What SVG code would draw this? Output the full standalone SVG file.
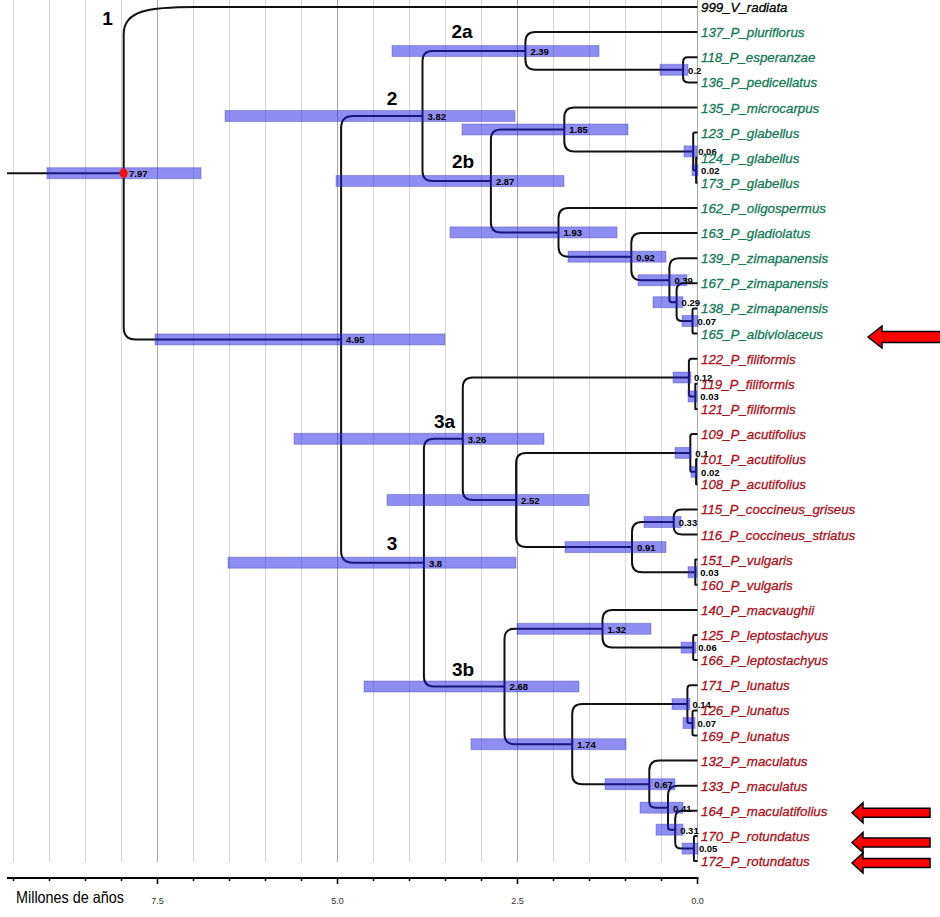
<svg xmlns="http://www.w3.org/2000/svg" width="940" height="917" viewBox="0 0 940 917">
<style>
.gmin{stroke:#d6d6d6;stroke-width:1}
.gmaj{stroke:#a8a8a8;stroke-width:1}
.br{fill:none;stroke:#111;stroke-width:2;stroke-linejoin:round}
.bar{fill:#1e1ee6;fill-opacity:0.5;stroke:#3030b0;stroke-opacity:0.35;stroke-width:1}
.nl{font-family:"Liberation Sans",Arial,sans-serif;font-weight:bold;font-size:9.5px;fill:#000}
.tip{font-family:"Liberation Sans",Arial,sans-serif;font-style:italic;font-size:13.3px;stroke-width:0.3px}
.g{fill:#16795a;stroke:#16795a}
.r{fill:#a8121e;stroke:#a8121e}
.k{fill:#000;stroke:#000}
.cl{font-family:"Liberation Sans",Arial,sans-serif;font-weight:bold;font-size:19px;fill:#000}
.ax{font-family:"Liberation Sans",Arial,sans-serif;font-size:9px;fill:#333;text-anchor:middle}
.arw{fill:#ff0000;stroke:#000;stroke-width:1.5;stroke-linejoin:miter}
</style>
<rect width="940" height="917" fill="#fff"/>
<g id="grid">
<line class="gmin" x1="13.5" y1="0" x2="13.5" y2="862"/>
<line class="gmin" x1="49.5" y1="0" x2="49.5" y2="862"/>
<line class="gmin" x1="85.5" y1="0" x2="85.5" y2="862"/>
<line class="gmin" x1="121.5" y1="0" x2="121.5" y2="862"/>
<line class="gmaj" x1="157.5" y1="0" x2="157.5" y2="862"/>
<line class="gmin" x1="193.5" y1="0" x2="193.5" y2="862"/>
<line class="gmin" x1="229.5" y1="0" x2="229.5" y2="862"/>
<line class="gmin" x1="265.5" y1="0" x2="265.5" y2="862"/>
<line class="gmin" x1="301.5" y1="0" x2="301.5" y2="862"/>
<line class="gmaj" x1="337.5" y1="0" x2="337.5" y2="862"/>
<line class="gmin" x1="373.5" y1="0" x2="373.5" y2="862"/>
<line class="gmin" x1="409.5" y1="0" x2="409.5" y2="862"/>
<line class="gmin" x1="445.5" y1="0" x2="445.5" y2="862"/>
<line class="gmin" x1="481.5" y1="0" x2="481.5" y2="862"/>
<line class="gmaj" x1="517.5" y1="0" x2="517.5" y2="862"/>
<line class="gmin" x1="553.5" y1="0" x2="553.5" y2="862"/>
<line class="gmin" x1="589.5" y1="0" x2="589.5" y2="862"/>
<line class="gmin" x1="625.5" y1="0" x2="625.5" y2="862"/>
<line class="gmin" x1="661.5" y1="0" x2="661.5" y2="862"/>
<line class="gmaj" x1="697.5" y1="0" x2="697.5" y2="862"/>
</g>
<g id="axis">
<line x1="7" y1="878" x2="698.5" y2="878" stroke="#000" stroke-width="2"/>
<g stroke="#000" stroke-width="1.5">
<line x1="13.5" y1="878" x2="13.5" y2="881"/><line x1="49.5" y1="878" x2="49.5" y2="881"/><line x1="85.5" y1="878" x2="85.5" y2="881"/><line x1="121.5" y1="878" x2="121.5" y2="881"/>
<line x1="157.5" y1="878" x2="157.5" y2="884"/>
<line x1="193.5" y1="878" x2="193.5" y2="881"/><line x1="229.5" y1="878" x2="229.5" y2="881"/><line x1="265.5" y1="878" x2="265.5" y2="881"/><line x1="301.5" y1="878" x2="301.5" y2="881"/>
<line x1="337.5" y1="878" x2="337.5" y2="884"/>
<line x1="373.5" y1="878" x2="373.5" y2="881"/><line x1="409.5" y1="878" x2="409.5" y2="881"/><line x1="445.5" y1="878" x2="445.5" y2="881"/><line x1="481.5" y1="878" x2="481.5" y2="881"/>
<line x1="517.5" y1="878" x2="517.5" y2="884"/>
<line x1="553.5" y1="878" x2="553.5" y2="881"/><line x1="589.5" y1="878" x2="589.5" y2="881"/><line x1="625.5" y1="878" x2="625.5" y2="881"/><line x1="661.5" y1="878" x2="661.5" y2="881"/>
<line x1="697.5" y1="878" x2="697.5" y2="884"/>
</g>
<text class="ax" x="157.5" y="904">7.5</text>
<text class="ax" x="337.5" y="904">5.0</text>
<text class="ax" x="517.5" y="904">2.5</text>
<text class="ax" x="697.5" y="904">0.0</text>
<text x="16" y="903" font-family="'Liberation Sans',Arial,sans-serif" font-size="16.5" textLength="108" lengthAdjust="spacingAndGlyphs">Millones de años</text>
</g>
<g id="connectors">
<path class="br" d="M7,173.2 H123.7"/>
<path class="br" d="M697.5,7 H195 C150,7 123.7,10 123.7,34 V327.4 Q123.7,339.4 135.7,339.4 H341.1"/>
<path class="br" d="M422.5,116 H353.1 Q341.1,116 341.1,128 V550.7 Q341.1,562.7 353.1,562.7 H423.9"/>
<path class="br" d="M525.4,51 H432.5 Q422.5,51 422.5,61 V171 Q422.5,181 432.5,181 H490.9"/>
<path class="br" d="M697.5,32.1 H535.4 Q525.4,32.1 525.4,42.1 V59.8 Q525.4,69.8 535.4,69.8 H683.1"/>
<path class="br" d="M697.5,57.2 H687.9 Q683.1,57.2 683.1,62 V77.6 Q683.1,82.4 687.9,82.4 H697.5"/>
<path class="br" d="M564.3,129.5 H500.9 Q490.9,129.5 490.9,139.5 V222.4 Q490.9,232.4 500.9,232.4 H558.5"/>
<path class="br" d="M697.5,107.5 H574.3 Q564.3,107.5 564.3,117.5 V141.4 Q564.3,151.4 574.3,151.4 H693.2"/>
<path class="br" d="M697.5,132.6 H694.6 Q693.2,132.6 693.2,134 V169.3 Q693.2,170.3 694.2,170.3 H696.1"/>
<path class="br" d="M697.5,157.7 H696.1 V182.8 H697.5"/>
<path class="br" d="M697.5,208 H568.5 Q558.5,208 558.5,218 V246.7 Q558.5,256.7 568.5,256.7 H631.3"/>
<path class="br" d="M697.5,233.1 H641.3 Q631.3,233.1 631.3,243.1 V270.2 Q631.3,280.2 641.3,280.2 H669.4"/>
<path class="br" d="M697.5,258.2 H678.8 Q669.4,258.2 669.4,267.6 V299.8 Q669.4,302.2 671.8,302.2 H676.6"/>
<path class="br" d="M697.5,283.3 H683.6 Q676.6,283.3 676.6,290.3 V315.7 Q676.6,321 681.9,321 H692.5"/>
<path class="br" d="M697.5,308.4 H694.2 Q692.5,308.4 692.5,310.1 V331.9 Q692.5,333.6 694.2,333.6 H697.5"/>
<path class="br" d="M462.8,438.8 H433.9 Q423.9,438.8 423.9,448.8 V676.5 Q423.9,686.5 433.9,686.5 H504.5"/>
<path class="br" d="M688.9,377.5 H472.8 Q462.8,377.5 462.8,387.5 V490 Q462.8,500 472.8,500 H516.1"/>
<path class="br" d="M697.5,358.7 H691.8 Q688.9,358.7 688.9,361.6 V394.3 Q688.9,396.4 691,396.4 H695.3"/>
<path class="br" d="M697.5,383.8 H695.3 V408.9 H697.5"/>
<path class="br" d="M690.3,452.9 H526.1 Q516.1,452.9 516.1,462.9 V537.1 Q516.1,547.1 526.1,547.1 H632"/>
<path class="br" d="M697.5,434 H692.7 Q690.3,434 690.3,436.4 V469.9 Q690.3,471.8 692.2,471.8 H696.1"/>
<path class="br" d="M697.5,459.2 H696.1 V484.3 H697.5"/>
<path class="br" d="M673.7,522 H642 Q632,522 632,532 V562.2 Q632,572.2 642,572.2 H695.3"/>
<path class="br" d="M697.5,509.4 H681.6 Q673.7,509.4 673.7,517.3 V526.6 Q673.7,534.5 681.6,534.5 H697.5"/>
<path class="br" d="M697.5,559.6 H695.3 V584.8 H697.5"/>
<path class="br" d="M602.5,628.8 H514.5 Q504.5,628.8 504.5,638.8 V734.2 Q504.5,744.2 514.5,744.2 H572.2"/>
<path class="br" d="M697.5,609.9 H612.5 Q602.5,609.9 602.5,619.9 V637.6 Q602.5,647.6 612.5,647.6 H693.2"/>
<path class="br" d="M697.5,635 H694.6 Q693.2,635 693.2,636.4 V658.7 Q693.2,660.1 694.6,660.1 H697.5"/>
<path class="br" d="M687.4,704.1 H582.2 Q572.2,704.1 572.2,714.1 V774.2 Q572.2,784.2 582.2,784.2 H649.3"/>
<path class="br" d="M697.5,685.2 H690.8 Q687.4,685.2 687.4,688.6 V721.3 Q687.4,723 689.1,723 H692.5"/>
<path class="br" d="M697.5,710.4 H694.2 Q692.5,710.4 692.5,712.1 V733.8 Q692.5,735.5 694.2,735.5 H697.5"/>
<path class="br" d="M697.5,760.6 H659.3 Q649.3,760.6 649.3,770.6 V801.5 Q649.3,807.7 655.5,807.7 H668"/>
<path class="br" d="M697.5,785.7 H677.8 Q668,785.7 668,795.5 V827.3 Q668,829.7 670.4,829.7 H675.2"/>
<path class="br" d="M697.5,810.8 H682.6 Q675.2,810.8 675.2,818.2 V842.4 Q675.2,848.6 681.4,848.6 H693.9"/>
<path class="br" d="M697.5,836 H695.1 Q693.9,836 693.9,837.2 V859.9 Q693.9,861.1 695.1,861.1 H697.5"/>
</g>
<g id="nodes">
<g id="n797"><rect class="bar" x="47" y="167.7" width="154" height="11"/><ellipse cx="123.7" cy="173.2" rx="4" ry="5" fill="#ff1010"/><text class="nl" x="129" y="177">7.97</text></g>
<g id="n382"><rect class="bar" x="225" y="110.5" width="290" height="11"/><text class="nl" x="427.5" y="119.8">3.82</text></g>
<g id="n239"><rect class="bar" x="392" y="45.5" width="207" height="11"/><text class="nl" x="530.4" y="54.8">2.39</text></g>
<g id="n020"><rect class="bar" x="660" y="64.3" width="28" height="11"/><text class="nl" x="688.1" y="73.6">0.2</text></g>
<g id="n287"><rect class="bar" x="336" y="175.5" width="228" height="11"/><text class="nl" x="495.9" y="184.8">2.87</text></g>
<g id="n185"><rect class="bar" x="462" y="124" width="166" height="11"/><text class="nl" x="569.3" y="133.3">1.85</text></g>
<g id="n006a"><rect class="bar" x="684" y="145.9" width="13" height="11"/><text class="nl" x="698.2" y="155.2">0.06</text></g>
<g id="n002a"><rect class="bar" x="692" y="164.8" width="6" height="11"/><text class="nl" x="701.1" y="174.1">0.02</text></g>
<g id="n193"><rect class="bar" x="450" y="226.9" width="167" height="11"/><text class="nl" x="563.5" y="236.2">1.93</text></g>
<g id="n092"><rect class="bar" x="568" y="251.2" width="98" height="11"/><text class="nl" x="636.3" y="260.5">0.92</text></g>
<g id="n039"><rect class="bar" x="638" y="274.7" width="49" height="11"/><text class="nl" x="674.4" y="284">0.39</text></g>
<g id="n029"><rect class="bar" x="653" y="296.7" width="30" height="11"/><text class="nl" x="681.6" y="306">0.29</text></g>
<g id="n007a"><rect class="bar" x="682" y="315.5" width="16" height="11"/><text class="nl" x="697.5" y="324.8">0.07</text></g>
<g id="n495"><rect class="bar" x="155" y="333.9" width="290" height="11"/><text class="nl" x="346.1" y="343.2">4.95</text></g>
<g id="n012"><rect class="bar" x="673" y="372" width="18" height="11"/><text class="nl" x="693.9" y="381.3">0.12</text></g>
<g id="n003a"><rect class="bar" x="688" y="390.9" width="9" height="11"/><text class="nl" x="700.3" y="400.2">0.03</text></g>
<g id="n326"><rect class="bar" x="294" y="433.3" width="250" height="11"/><text class="nl" x="467.8" y="442.6">3.26</text></g>
<g id="n010"><rect class="bar" x="675" y="447.4" width="16" height="11"/><text class="nl" x="695.3" y="456.7">0.1</text></g>
<g id="n002b"><rect class="bar" x="691" y="466.3" width="6" height="11"/><text class="nl" x="701.1" y="475.6">0.02</text></g>
<g id="n252"><rect class="bar" x="387" y="494.5" width="202" height="11"/><text class="nl" x="521.1" y="503.8">2.52</text></g>
<g id="n033"><rect class="bar" x="644" y="516.5" width="37" height="11"/><text class="nl" x="678.7" y="525.8">0.33</text></g>
<g id="n091"><rect class="bar" x="565" y="541.6" width="101" height="11"/><text class="nl" x="637" y="550.9">0.91</text></g>
<g id="n003b"><rect class="bar" x="688" y="566.7" width="9" height="11"/><text class="nl" x="700.3" y="576">0.03</text></g>
<g id="n380"><rect class="bar" x="228" y="557.2" width="288" height="11"/><text class="nl" x="428.9" y="566.5">3.8</text></g>
<g id="n132"><rect class="bar" x="517" y="623.3" width="134" height="11"/><text class="nl" x="607.5" y="632.6">1.32</text></g>
<g id="n006b"><rect class="bar" x="681" y="642.1" width="15" height="11"/><text class="nl" x="698.2" y="651.4">0.06</text></g>
<g id="n268"><rect class="bar" x="364" y="681" width="215" height="11"/><text class="nl" x="509.5" y="690.3">2.68</text></g>
<g id="n014"><rect class="bar" x="672" y="698.6" width="18" height="11"/><text class="nl" x="692.4" y="707.9">0.14</text></g>
<g id="n007b"><rect class="bar" x="683" y="717.5" width="12" height="11"/><text class="nl" x="697.5" y="726.8">0.07</text></g>
<g id="n174"><rect class="bar" x="471" y="738.7" width="155" height="11"/><text class="nl" x="577.2" y="748">1.74</text></g>
<g id="n067"><rect class="bar" x="605" y="778.7" width="70" height="11"/><text class="nl" x="654.3" y="788">0.67</text></g>
<g id="n041"><rect class="bar" x="640" y="802.2" width="43" height="11"/><text class="nl" x="673" y="811.5">0.41</text></g>
<g id="n031"><rect class="bar" x="656" y="824.2" width="27" height="11"/><text class="nl" x="680.2" y="833.5">0.31</text></g>
<g id="n005"><rect class="bar" x="682" y="843.1" width="16" height="11"/><text class="nl" x="698.9" y="852.4">0.05</text></g>
</g>
<g id="tips">
<g id="t999"><text class="tip k" x="701" y="12">999_V_radiata</text></g>
<g id="t137"><text class="tip g" x="701" y="37.1">137_P_pluriflorus</text></g>
<g id="t118"><text class="tip g" x="701" y="62.2">118_P_esperanzae</text></g>
<g id="t136"><text class="tip g" x="701" y="87.4">136_P_pedicellatus</text></g>
<g id="t135"><text class="tip g" x="701" y="112.5">135_P_microcarpus</text></g>
<g id="t123"><text class="tip g" x="701" y="137.6">123_P_glabellus</text></g>
<g id="t124"><text class="tip g" x="701" y="162.7">124_P_glabellus</text></g>
<g id="t173"><text class="tip g" x="701" y="187.8">173_P_glabellus</text></g>
<g id="t162"><text class="tip g" x="701" y="213">162_P_oligospermus</text></g>
<g id="t163"><text class="tip g" x="701" y="238.1">163_P_gladiolatus</text></g>
<g id="t139"><text class="tip g" x="701" y="263.2">139_P_zimapanensis</text></g>
<g id="t167"><text class="tip g" x="701" y="288.3">167_P_zimapanensis</text></g>
<g id="t138"><text class="tip g" x="701" y="313.4">138_P_zimapanensis</text></g>
<g id="t165"><text class="tip g" x="701" y="338.6">165_P_albiviolaceus</text></g>
<g id="t122"><text class="tip r" x="701" y="363.7">122_P_filiformis</text></g>
<g id="t119"><text class="tip r" x="701" y="388.8">119_P_filiformis</text></g>
<g id="t121"><text class="tip r" x="701" y="413.9">121_P_filiformis</text></g>
<g id="t109"><text class="tip r" x="701" y="439">109_P_acutifolius</text></g>
<g id="t101"><text class="tip r" x="701" y="464.2">101_P_acutifolius</text></g>
<g id="t108"><text class="tip r" x="701" y="489.3">108_P_acutifolius</text></g>
<g id="t115"><text class="tip r" x="701" y="514.4">115_P_coccineus_griseus</text></g>
<g id="t116"><text class="tip r" x="701" y="539.5">116_P_coccineus_striatus</text></g>
<g id="t151"><text class="tip r" x="701" y="564.6">151_P_vulgaris</text></g>
<g id="t160"><text class="tip r" x="701" y="589.8">160_P_vulgaris</text></g>
<g id="t140"><text class="tip r" x="701" y="614.9">140_P_macvaughii</text></g>
<g id="t125"><text class="tip r" x="701" y="640">125_P_leptostachyus</text></g>
<g id="t166"><text class="tip r" x="701" y="665.1">166_P_leptostachyus</text></g>
<g id="t171"><text class="tip r" x="701" y="690.2">171_P_lunatus</text></g>
<g id="t126"><text class="tip r" x="701" y="715.4">126_P_lunatus</text></g>
<g id="t169"><text class="tip r" x="701" y="740.5">169_P_lunatus</text></g>
<g id="t132"><text class="tip r" x="701" y="765.6">132_P_maculatus</text></g>
<g id="t133"><text class="tip r" x="701" y="790.7">133_P_maculatus</text></g>
<g id="t164"><text class="tip r" x="701" y="815.8">164_P_maculatifolius</text></g>
<g id="t170"><text class="tip r" x="701" y="841">170_P_rotundatus</text></g>
<g id="t172"><text class="tip r" x="701" y="866.1">172_P_rotundatus</text></g>
</g>
<g id="clades">
<text class="cl" x="107.5" y="25" text-anchor="middle">1</text>
<text class="cl" x="392" y="105" text-anchor="middle">2</text>
<text class="cl" x="451.5" y="38">2a</text>
<text class="cl" x="452" y="168">2b</text>
<text class="cl" x="434" y="428">3a</text>
<text class="cl" x="392" y="550" text-anchor="middle">3</text>
<text class="cl" x="452" y="676">3b</text>
</g>
<g id="arrows">
<polygon class="arw" points="868,337 882,326 882,331.5 945,331.5 945,342.5 882,342.5 882,348"/>
<polygon class="arw" points="852,812.7 863,802.7 863,808.2 930,808.2 930,817.2 863,817.2 863,822.7"/>
<polygon class="arw" points="852,842.5 863,832.5 863,838 930,838 930,847 863,847 863,852.5"/>
<polygon class="arw" points="852,863 863,853 863,858.5 930,858.5 930,867.5 863,867.5 863,873"/>
</g>
</svg>
